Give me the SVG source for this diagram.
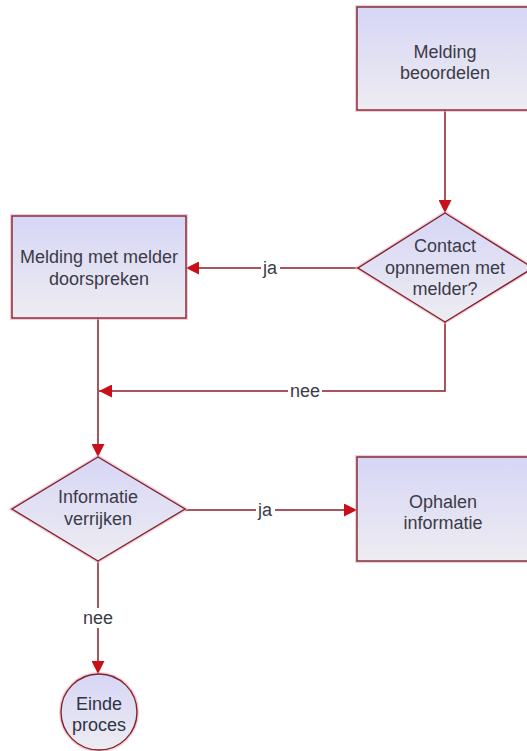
<svg xmlns="http://www.w3.org/2000/svg" width="527" height="751" viewBox="0 0 527 751">
<defs>
<linearGradient id="fillg" x1="0" y1="0" x2="0" y2="1">
<stop offset="0" stop-color="#d6d6f6"/>
<stop offset="1" stop-color="#eeecf1"/>
</linearGradient>
<marker id="arr" viewBox="0 0 10 10" refX="10" refY="5" markerWidth="13" markerHeight="13" markerUnits="userSpaceOnUse" orient="auto">
<path d="M0,0 L10,5 L0,10 Z" fill="#c8101a"/>
</marker>
<style>
.glow{fill:none;stroke:#f2a8b8;stroke-width:4;opacity:0.6}
.shape{fill:url(#fillg);stroke:#7d2530;stroke-width:1.4}
.t{font-family:"Liberation Sans",Arial,sans-serif;font-size:18px;fill:#3b3b48;text-anchor:middle}
.c{fill:none;stroke:#8c1c24;stroke-width:1.5}
.lb{fill:#ffffff}
</style>
</defs>
<rect width="527" height="751" fill="#ffffff"/>
<g id="connectors">
<path class="c" d="M445,110 L445,213" marker-end="url(#arr)"/>
<path class="c" d="M358,268 L186,268" marker-end="url(#arr)"/>
<path class="c" d="M445,322 L445,391 L99,391" marker-end="url(#arr)"/>
<path class="c" d="M98,318 L98,457" marker-end="url(#arr)"/>
<path class="c" d="M185,510 L357,510" marker-end="url(#arr)"/>
<path class="c" d="M98,561 L98,674" marker-end="url(#arr)"/>
<rect class="lb" x="261" y="258" width="19" height="20"/>
<text class="t" x="270" y="274">ja</text>
<rect class="lb" x="288" y="381" width="34" height="20"/>
<text class="t" x="305" y="397">nee</text>
<rect class="lb" x="256" y="500" width="19" height="20"/>
<text class="t" x="265" y="516">ja</text>
<rect class="lb" x="80" y="608" width="36" height="20"/>
<text class="t" x="98" y="624">nee</text>
</g>
<g id="melding-beoordelen">
<rect class="glow" x="357" y="7" width="180" height="103"/>
<rect class="shape" x="357" y="7" width="180" height="103"/>
<text class="t" x="445" y="58">Melding</text>
<text class="t" x="445" y="79">beoordelen</text>
</g>
<g id="contact-opnemen">
<polygon class="glow" points="445,213 533,268 445,322 358,268"/>
<polygon class="shape" points="445,213 533,268 445,322 358,268"/>
<text class="t" x="445" y="252">Contact</text>
<text class="t" x="445" y="274">opnnemen met</text>
<text class="t" x="445" y="295">melder?</text>
</g>
<g id="melding-doorspreken">
<rect class="glow" x="12" y="216" width="174" height="102"/>
<rect class="shape" x="12" y="216" width="174" height="102"/>
<text class="t" x="99" y="263">Melding met melder</text>
<text class="t" x="99" y="285">doorspreken</text>
</g>
<g id="informatie-verrijken">
<polygon class="glow" points="98,457 185,509 98,561 12,509"/>
<polygon class="shape" points="98,457 185,509 98,561 12,509"/>
<text class="t" x="98" y="503">Informatie</text>
<text class="t" x="98" y="525">verrijken</text>
</g>
<g id="ophalen-informatie">
<rect class="glow" x="357" y="457" width="180" height="104"/>
<rect class="shape" x="357" y="457" width="180" height="104"/>
<text class="t" x="443" y="508">Ophalen</text>
<text class="t" x="443" y="529">informatie</text>
</g>
<g id="einde-proces">
<circle class="glow" cx="99" cy="712" r="38"/>
<circle class="shape" cx="99" cy="712" r="38"/>
<text class="t" x="99" y="710" style="fill:#2e3446">Einde</text>
<text class="t" x="99" y="731" style="fill:#2e3446">proces</text>
</g>
</svg>
